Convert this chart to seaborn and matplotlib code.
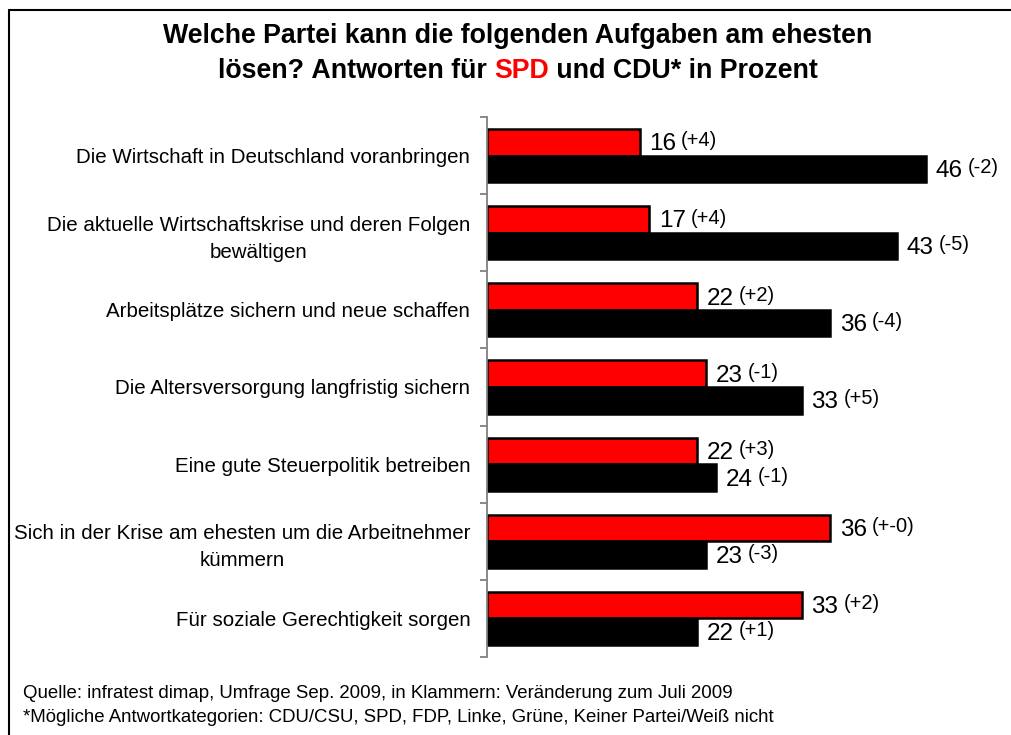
import matplotlib
matplotlib.use("Agg")
import matplotlib.pyplot as plt
from matplotlib.lines import Line2D
import seaborn as sns
import pandas as pd

categories = [
    "Die Wirtschaft in Deutschland voranbringen",
    "Die aktuelle Wirtschaftskrise und deren Folgen\nbewältigen",
    "Arbeitsplätze sichern und neue schaffen",
    "Die Altersversorgung langfristig sichern",
    "Eine gute Steuerpolitik betreiben",
    "Sich in der Krise am ehesten um die Arbeitnehmer\nkümmern",
    "Für soziale Gerechtigkeit sorgen",
]
parties = ["SPD", "CDU"]
spd_values = [16, 17, 22, 23, 22, 36, 33]
cdu_values = [46, 43, 36, 33, 24, 23, 22]
spd_changes = ["(+4)", "(+4)", "(+2)", "(-1)", "(+3)", "(+-0)", "(+2)"]
cdu_changes = ["(-2)", "(-5)", "(-4)", "(+5)", "(-1)", "(-3)", "(+1)"]

title_line1 = "Welche Partei kann die folgenden Aufgaben am ehesten"
title_line2 = ["lösen? Antworten für ", "SPD", " und CDU* in Prozent"]
footer = [
    "Quelle: infratest dimap, Umfrage Sep. 2009, in Klammern: Veränderung zum Juli 2009",
    "*Mögliche Antwortkategorien: CDU/CSU, SPD, FDP, Linke, Grüne, Keiner Partei/Weiß nicht",
]

df = pd.DataFrame({
    "Aufgabe": categories * 2,
    "Partei": [parties[0]] * len(categories) + [parties[1]] * len(categories),
    "Wert": spd_values + cdu_values,
})

sns.set_theme(style="white")
plt.rcParams["font.family"] = ["Liberation Sans", "DejaVu Sans"]
plt.rcParams["text.color"] = "black"
plt.rcParams["ytick.labelcolor"] = "black"

W, H = 1011, 735
fig = plt.figure(figsize=(W / 100, H / 100), dpi=100)
ax = fig.add_axes([487 / W, 1 - 657 / H, (W - 487) / W, (657 - 117) / H])

sns.barplot(data=df, y="Aufgabe", x="Wert", hue="Partei", order=categories,
            hue_order=parties, palette={"SPD": "#ff0000", "CDU": "#000000"},
            saturation=1, orient="h", width=0.69, gap=0, edgecolor="black",
            linewidth=1.8, legend=False, ax=ax)

ax.set_xlim(0, (W - 487) / 9.54)
ax.set_ylim(len(categories) - 0.5, -0.5)
ax.set_xlabel("")
ax.set_ylabel("")
ax.xaxis.set_visible(False)
for s in ["top", "right", "bottom"]:
    ax.spines[s].set_visible(False)
ax.spines["left"].set_color("#808080")
ax.spines["left"].set_linewidth(1.3)

n = len(categories)
ax.set_yticks([i - 0.5 for i in range(n + 1)])
ax.set_yticklabels([""] * (n + 1))
ax.set_yticks(list(range(n)), minor=True)
ax.set_yticklabels(categories, minor=True, fontsize=14.8, ha="right",
                   multialignment="center", linespacing=1.52, color="black")
ax.tick_params(axis="y", which="major", length=5, width=1.3, color="#808080",
               direction="out", left=True)
ax.tick_params(axis="y", which="minor", length=0, pad=12, left=True)

# value labels
for cont, vals, chg in zip(ax.containers, [spd_values, cdu_values],
                           [spd_changes, cdu_changes]):
    for bar, v, c in zip(cont.patches, vals, chg):
        yc = bar.get_y() + bar.get_height() / 2
        t = ax.annotate(str(v), xy=(bar.get_width(), yc), xytext=(7, -1.5),
                        textcoords="offset points", ha="left", va="center",
                        fontsize=17.5, color="black")
        ax.annotate(c, xy=(1, 0.5), xycoords=t, xytext=(3.5, 2.5),
                    textcoords="offset points", ha="left", va="center",
                    fontsize=14.5, color="black")

# title
TS = 19.3
fig.text(0.512, 1 - 43 / H, title_line1, ha="center", va="baseline",
         fontsize=TS, fontweight="bold", color="black")
r = fig.canvas.get_renderer()
colors = ["black", "#ff0000", "black"]
tmp = []
for s in title_line2:
    tt = fig.text(0, 0, s.replace(" ", "\u00a0"), fontsize=TS, fontweight="bold")
    tmp.append(tt.get_window_extent(r).width)
    tt.remove()
total = sum(tmp)
x = 0.512 * W - total / 2
for s, wdt, col in zip(title_line2, tmp, colors):
    fig.text(x / W, 1 - 78 / H, s.replace(" ", "\u00a0"), ha="left",
             va="baseline", fontsize=TS, fontweight="bold", color=col)
    x += wdt

# footer
fig.text(23 / W, 1 - 698 / H, footer[0], fontsize=13.4, va="baseline", color="black")
fig.text(23 / W, 1 - 722 / H, footer[1], fontsize=13.4, va="baseline", color="black")

# frame lines (top and left)
fig.add_artist(Line2D([9 / W, 1], [1 - 10 / H, 1 - 10 / H],
                      transform=fig.transFigure, color="black", lw=1.5))
fig.add_artist(Line2D([9 / W, 9 / W], [0, 1 - 10 / H],
                      transform=fig.transFigure, color="black", lw=1.5))

fig.savefig("out.png", dpi=100)
